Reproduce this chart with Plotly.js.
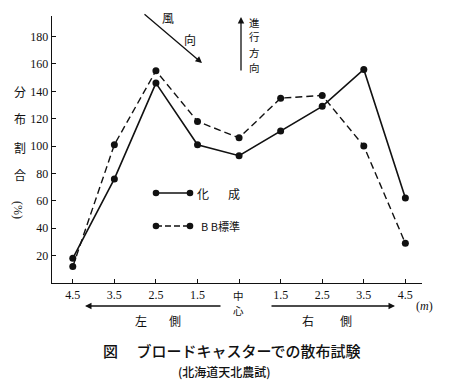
<!DOCTYPE html>
<html><head><meta charset="utf-8">
<script src="https://cdn.plot.ly/plotly-3.0.1.min.js"></script>
<style>body{margin:0;background:#fff}#g{width:456px;height:382px}</style>
</head><body><div id="g"></div>
<script>
// data
const positions = [-4, -3, -2, -1, 0, 1, 2, 3, 4];
const tickLabels = ['4.5', '3.5', '2.5', '1.5', '', '1.5', '2.5', '3.5', '4.5'];
const kasei = [18, 76, 146, 101, 93, 111, 129, 156, 62];
const bbStd = [12, 101, 155, 118, 106, 135, 137, 100, 29];
const seriesNames = ['化　成', 'B B標準'];

const L = 52, R = 422, T = 16, B = 283, W = 456, H = 382;
const px = x => (x - L) / (R - L);
const py = y => (B - y) / (B - T);
const serif = '"Liberation Serif", "DejaVu Serif", serif';
const cjk = '"Noto Sans CJK JP", sans-serif';
const ink = '#111';

function txt(t, x, y, size, opts) {
  return Object.assign({text: t, xref: 'paper', yref: 'paper', x: px(x), y: py(y),
    xanchor: 'center', yanchor: 'middle', showarrow: false, borderpad: 0,
    font: {family: cjk, size: size || 12, color: ink}}, opts || {});
}
function arrow(x1, y1, x2, y2) { // tail -> head
  return {text: '', xref: 'paper', yref: 'paper', x: px(x2), y: py(y2),
    ax: x1 - x2, ay: y1 - y2, axref: 'pixel', ayref: 'pixel', showarrow: true,
    arrowhead: 2, arrowsize: 1, arrowwidth: 1.3, arrowcolor: ink};
}

const traces = [
  {x: positions, y: kasei, name: seriesNames[0], mode: 'lines+markers', showlegend: false,
   line: {color: ink, width: 1.6}, marker: {color: ink, size: 7}},
  {x: positions, y: bbStd, name: seriesNames[1], mode: 'lines+markers', showlegend: false,
   line: {color: ink, width: 1.4, dash: '7px,4px'}, marker: {color: ink, size: 7}}
];

const ann = [
  // y label
  txt('分', 20, 91, 12), txt('布', 20, 118, 12), txt('割', 20, 147, 12), txt('合', 20, 174, 12),
  txt('(%)', 18, 210, 12, {textangle: 90, font: {family: serif, size: 12, color: ink}}),
  // wind
  txt('風', 168, 17, 12), txt('向', 190, 39, 12), arrow(143, 13, 202, 63),
  // travel direction
  txt('進', 255, 22, 10.5), txt('行', 255, 37, 10.5), txt('方', 255, 52, 10.5), txt('向', 255, 67, 10.5),
  arrow(241, 72, 241, 17),
  // bottom
  txt('中', 239, 295, 10.5), txt('心', 239, 310, 10.5),
  arrow(222, 306, 85, 306), arrow(270, 306, 395, 306),
  txt('左', 141, 320, 12), txt('側', 175, 320, 12),
  txt('右', 308, 320, 12), txt('側', 346, 320, 12),
  txt('(<i>m</i>)', 424, 306, 12, {font: {family: serif, size: 12, color: ink}}),
  // legend text
  txt(seriesNames[0].slice(0, 1), 203, 193, 12), txt(seriesNames[0].slice(-1), 234, 193, 12),
  txt(seriesNames[1], 220, 226, 12, {font: {family: cjk, size: 11, color: ink}}),
  // title
  txt('図　 ブロードキャスターでの散布試験', 231, 350, 15, {font: {family: cjk, size: 15, color: ink, weight: 500}}),
  txt('(北海道天北農試)', 224, 371, 12, {font: {family: cjk, size: 12, color: ink, weight: 500}})
];

const shapes = [
  {type: 'line', xref: 'paper', yref: 'paper', x0: px(156), x1: px(190), y0: py(193), y1: py(193), line: {color: ink, width: 1.6}},
  {type: 'line', xref: 'paper', yref: 'paper', x0: px(156), x1: px(190), y0: py(226), y1: py(226), line: {color: ink, width: 1.4, dash: '6px,3px'}}
];
[[156,193],[190,193],[156,226],[190,226]].forEach(([cx, cy]) => {
  shapes.push({type: 'circle', xref: 'paper', yref: 'paper', x0: px(cx - 3.3), x1: px(cx + 3.3),
    y0: py(cy + 3.3), y1: py(cy - 3.3), fillcolor: ink, line: {width: 0}});
});

const layout = {
  width: W, height: H, margin: {l: L, r: W - R, t: T, b: H - B},
  paper_bgcolor: '#fff', plot_bgcolor: '#fff', showlegend: false,
  xaxis: {range: [-4.5, 4.4], tickvals: positions, ticktext: tickLabels, showgrid: false, zeroline: false,
    showline: true, linecolor: ink, linewidth: 1.3, ticks: 'inside', ticklen: 4, tickcolor: ink,
    tickfont: {family: serif, size: 12, color: ink}},
  yaxis: {range: [0, 195], tickvals: [20, 40, 60, 80, 100, 120, 140, 160, 180], showgrid: false, zeroline: false,
    showline: true, linecolor: ink, linewidth: 1.3, ticks: 'inside', ticklen: 4, tickcolor: ink,
    tickfont: {family: serif, size: 12, color: ink}},
  annotations: ann, shapes: shapes
};
Plotly.newPlot('g', traces, layout, {staticPlot: true});
</script></body></html>
